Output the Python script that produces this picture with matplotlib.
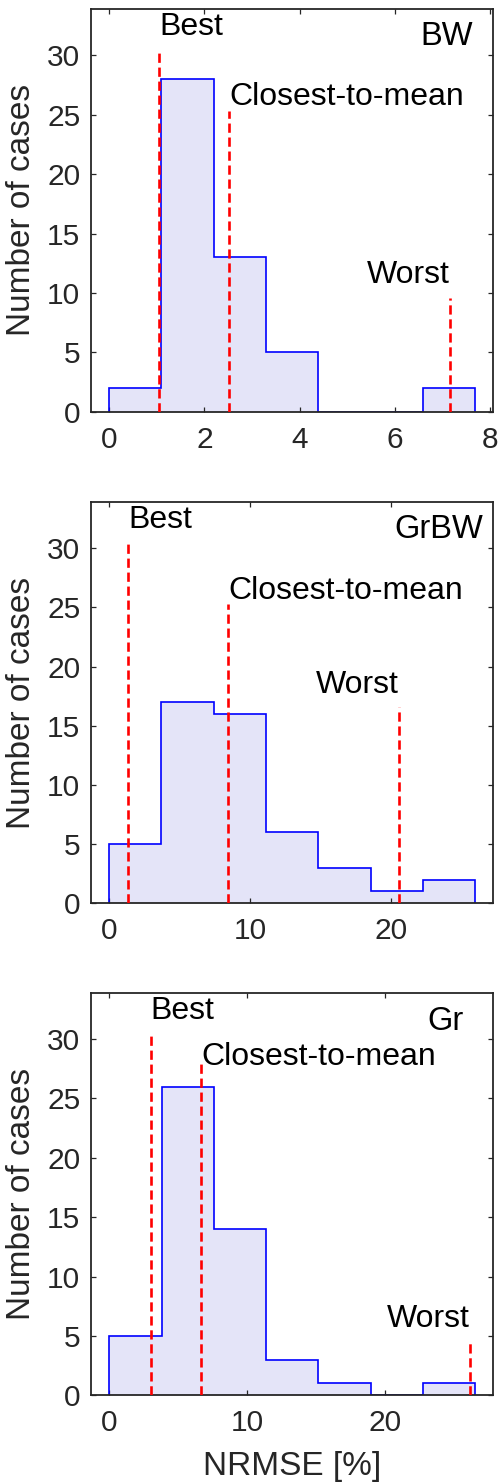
import numpy as np
import matplotlib
matplotlib.use("Agg")
import matplotlib.pyplot as plt

plt.rcParams['font.family'] = ['Liberation Sans', 'DejaVu Sans']

# histogram data (bin edges and counts) for the three cases
names = ["BW", "GrBW", "Gr"]
edges = [
    [0, 1.097, 2.194, 3.291, 4.388, 5.485, 6.582, 7.679],
    [0, 3.71, 7.43, 11.14, 14.85, 18.57, 22.28, 25.99],
    [0, 3.79, 7.58, 11.37, 15.16, 18.96, 22.75, 26.54],
]
counts = [
    [2, 28, 13, 5, 0, 0, 2],
    [5, 17, 16, 6, 3, 1, 2],
    [5, 26, 14, 3, 1, 0, 1],
]

# NRMSE of the marked cases: best, closest-to-mean, worst
marker_labels = ["Best", "Closest-to-mean", "Worst"]
marker_x = [
    [1.044, 2.52, 7.16],
    [1.35, 8.44, 20.57],
    [3.0, 6.68, 26.17],
]

xlims = [(-0.39, 8.06), (-1.32, 27.27), (-1.35, 27.84)]
xticks = [[0, 2, 4, 6, 8], [0, 10, 20], [0, 10, 20]]

# line heights and label heights (in count units)
line_top = [
    [30.4, 25.3, 9.6],
    [30.5, 25.26, 16.6],
    [30.5, 27.9, 4.4],
]
label_y = [
    [32.4, 26.5, 11.5],
    [32.4, 26.4, 18.4],
    [32.4, 28.5, 6.4],
]
name_pos = [(7.63, 31.6), (26.58, 31.6), (25.69, 31.5)]

axcol = '#262626'
fig = plt.figure(figsize=(4.98, 14.83), dpi=100)
positions = [
    [0.1821, 0.7224, 0.8078, 0.2715],
    [0.1821, 0.3909, 0.8078, 0.2706],
    [0.1821, 0.0591, 0.8078, 0.2715],
]

for i in range(3):
    ax = fig.add_axes(positions[i])

    # filled histogram outline (stairs style)
    ax.stairs(counts[i], edges[i], fill=True, color='#E4E4F8', zorder=1)
    ax.stairs(counts[i], edges[i], baseline=0, color='#0000FF',
              linewidth=1.2, zorder=2)

    for j in range(3):
        ax.plot([marker_x[i][j], marker_x[i][j]], [0, line_top[i][j]],
                color='#FF0000', linewidth=1.9, dashes=(3.5, 1.8), zorder=3)
        ha = 'right' if j == 2 else 'left'
        ax.text(marker_x[i][j], label_y[i][j], marker_labels[j],
                ha=ha, va='center', fontsize=23, color='black')

    ax.text(name_pos[i][0], name_pos[i][1], names[i], ha='right',
            va='center', fontsize=23.5, color='black')

    ax.set_xlim(*xlims[i])
    ax.set_ylim(0, 33.9)
    ax.set_xticks(xticks[i])
    ax.set_yticks([0, 5, 10, 15, 20, 25, 30])

    ax.tick_params(direction='in', length=3.6, width=0.9, colors=axcol,
                   labelsize=21.5, top=True, right=True)
    ax.tick_params(axis='x', pad=10)
    ax.tick_params(axis='y', pad=7.5)
    for s in ax.spines.values():
        s.set_color(axcol)
        s.set_linewidth(1.3)

    ax.set_ylabel("Number of cases", fontsize=24, color=axcol, va='center')
    ax.yaxis.set_label_coords(-0.172, 0.5)

    if i == 2:
        ax.set_xlabel("NRMSE [%]", fontsize=24, color=axcol, va='center')
        ax.xaxis.set_label_coords(0.5, -0.177)

fig.savefig("out.png", dpi=100)
